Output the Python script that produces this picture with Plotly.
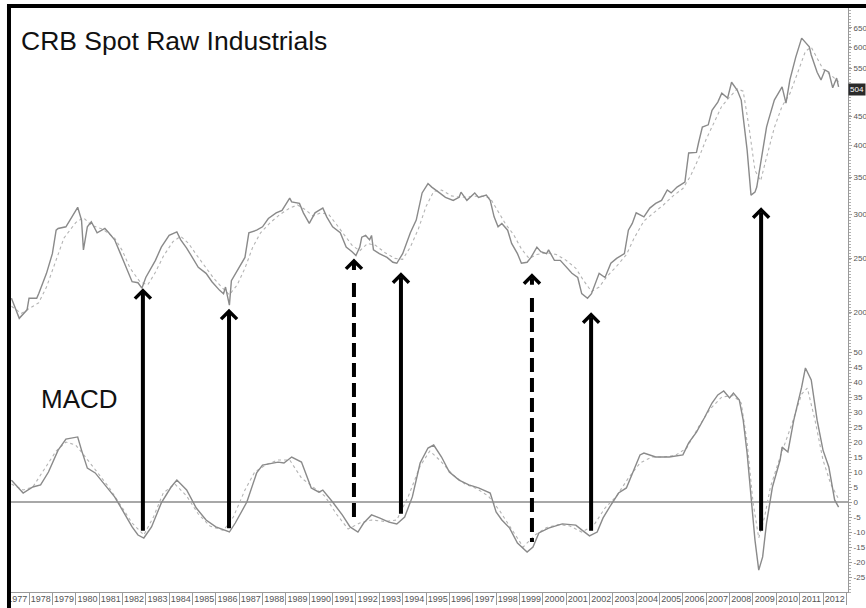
import math
import plotly.graph_objects as go

# ---------------- data ----------------
price_dates = ["1977-04", "1977-08", "1977-12", "1978-01", "1978-05", "1978-06", "1978-10", "1979-01", "1979-03", "1979-04",
               "1979-08", "1979-10", "1979-12", "1980-02", "1980-04", "1980-05", "1980-07", "1980-09", "1980-12", "1981-02",
               "1981-04", "1981-06", "1981-09", "1981-12", "1982-03", "1982-06", "1982-09", "1982-11", "1983-01", "1983-04",
               "1983-06", "1983-09", "1984-01", "1984-05", "1984-07", "1984-10", "1985-01", "1985-04", "1985-08", "1985-11",
               "1986-03", "1986-05", "1986-06", "1986-08", "1986-09", "1986-12", "1987-04", "1987-06", "1987-10", "1988-01",
               "1988-04", "1988-08", "1988-11", "1989-03", "1989-04", "1989-08", "1989-10", "1990-01", "1990-04", "1990-06",
               "1990-08", "1990-10", "1991-01", "1991-05", "1991-08", "1991-11", "1992-01", "1992-03", "1992-04", "1992-06",
               "1992-08", "1992-09", "1992-10", "1993-01", "1993-05", "1993-08", "1993-10", "1994-01", "1994-05", "1994-08",
               "1994-11", "1995-02", "1995-04", "1995-08", "1995-11", "1996-03", "1996-06", "1996-07", "1996-10", "1997-02",
               "1997-04", "1997-08", "1997-10", "1997-12", "1998-02", "1998-04", "1998-07", "1998-09", "1998-12", "1999-02",
               "1999-05", "1999-07", "1999-10", "1999-12", "2000-03", "2000-04", "2000-07", "2000-10", "2001-01", "2001-04",
               "2001-07", "2001-09", "2001-12", "2002-02", "2002-06", "2002-09", "2002-12", "2003-03", "2003-07", "2003-09",
               "2003-11", "2004-01", "2004-05", "2004-08", "2004-11", "2005-02", "2005-05", "2005-07", "2005-10", "2006-02",
               "2006-04", "2006-08", "2006-09", "2006-11", "2007-02", "2007-04", "2007-07", "2007-09", "2007-12", "2008-02",
               "2008-05", "2008-07", "2008-08", "2008-10", "2008-12", "2009-02", "2009-03", "2009-05", "2009-08", "2009-09",
               "2009-12", "2010-04", "2010-06", "2010-08", "2010-11", "2011-02", "2011-06", "2011-07", "2011-10", "2011-12",
               "2012-02", "2012-04", "2012-06", "2012-08", "2012-09"]
price_values = [212, 195, 202, 212, 212, 216, 235, 255, 281, 283,
                285, 293, 302, 309, 293, 259, 285, 291, 278, 281,
                283, 278, 270, 255, 241, 227, 226, 221, 231, 241,
                248, 262, 275, 279, 270, 261, 251, 241, 235, 227,
                219, 216, 222, 206, 228, 238, 251, 278, 281, 285,
                295, 302, 305, 321, 316, 314, 302, 289, 302, 305,
                308, 297, 285, 278, 262, 257, 253, 262, 273, 275,
                270, 275, 259, 255, 251, 246, 245, 255, 278, 293,
                328, 341, 336, 328, 322, 318, 322, 329, 318, 328,
                322, 325, 318, 297, 285, 289, 281, 266, 255, 245,
                246, 251, 262, 257, 255, 259, 248, 248, 241, 235,
                231, 216, 212, 216, 235, 231, 245, 250, 255, 281,
                289, 302, 297, 308, 314, 318, 332, 328, 336, 343,
                387, 388, 403, 431, 435, 462, 478, 496, 486, 519,
                502, 482, 449, 392, 325, 329, 336, 371, 431, 444,
                482, 509, 476, 524, 576, 623, 601, 581, 541, 524,
                546, 541, 507, 528, 509]

price_avg_dates = ["1977-04", "1977-09", "1978-01", "1978-06", "1978-10", "1979-03", "1979-07", "1980-01", "1980-05", "1980-09",
                   "1981-03", "1981-09", "1982-01", "1982-05", "1982-10", "1983-02", "1983-06", "1983-10", "1984-03", "1984-07",
                   "1984-11", "1985-03", "1985-08", "1985-12", "1986-04", "1986-08", "1986-12", "1987-04", "1987-08", "1987-12",
                   "1988-05", "1988-10", "1989-03", "1989-07", "1989-11", "1990-03", "1990-07", "1990-11", "1991-03", "1991-07",
                   "1991-11", "1992-03", "1992-07", "1992-11", "1993-04", "1993-09", "1994-01", "1994-05", "1994-09", "1995-01",
                   "1995-05", "1995-09", "1996-02", "1996-07", "1996-12", "1997-05", "1997-10", "1998-02", "1998-06", "1998-10",
                   "1999-02", "1999-06", "1999-10", "2000-03", "2000-08", "2001-01", "2001-06", "2001-10", "2002-02", "2002-06",
                   "2002-10", "2003-03", "2003-08", "2003-12", "2004-05", "2004-10", "2005-03", "2005-08", "2006-01", "2006-05",
                   "2006-09", "2007-01", "2007-05", "2007-09", "2008-01", "2008-05", "2008-08", "2008-11", "2009-02", "2009-05",
                   "2009-08", "2009-12", "2010-04", "2010-08", "2010-12", "2011-04", "2011-07", "2011-10", "2012-01", "2012-05",
                   "2012-09"]
price_avg_values = [205, 199, 203, 208, 222, 248, 272, 290, 296, 287,
                    282, 272, 258, 240, 227, 224, 236, 252, 268, 274,
                    266, 254, 240, 230, 222, 215, 224, 240, 262, 278,
                    290, 300, 308, 312, 306, 298, 302, 300, 288, 276,
                    264, 258, 266, 264, 256, 250, 249, 262, 282, 310,
                    330, 332, 324, 322, 323, 324, 321, 304, 288, 276,
                    260, 250, 254, 256, 254, 248, 240, 228, 218, 222,
                    232, 242, 254, 272, 292, 302, 312, 324, 334, 352,
                    378, 410, 440, 470, 488, 505, 500, 430, 360, 345,
                    380, 430, 470, 495, 540, 590, 600, 575, 548, 535,
                    520]

macd_dates = ["1977-04", "1977-10", "1978-03", "1978-07", "1978-11", "1979-04", "1979-08", "1980-02", "1980-04", "1980-07",
              "1980-11", "1981-05", "1981-09", "1982-01", "1982-06", "1982-09", "1982-12", "1983-04", "1983-09", "1984-02",
              "1984-05", "1984-10", "1985-03", "1985-08", "1986-01", "1986-08", "1986-11", "1987-05", "1987-10", "1988-01",
              "1988-06", "1988-09", "1988-12", "1989-04", "1989-09", "1990-02", "1990-06", "1990-08", "1991-01", "1991-06",
              "1991-10", "1992-02", "1992-05", "1992-09", "1993-01", "1993-06", "1993-10", "1994-02", "1994-06", "1994-10",
              "1995-02", "1995-05", "1995-09", "1996-01", "1996-06", "1996-11", "1997-04", "1997-10", "1998-01", "1998-04",
              "1998-08", "1998-12", "1999-05", "1999-08", "1999-11", "2000-04", "2000-11", "2001-06", "2001-09", "2002-01",
              "2002-05", "2002-08", "2002-12", "2003-04", "2003-08", "2003-11", "2004-03", "2004-05", "2004-11", "2005-06",
              "2006-01", "2006-04", "2006-08", "2006-12", "2007-04", "2007-07", "2007-10", "2008-01", "2008-03", "2008-06",
              "2008-08", "2008-10", "2008-12", "2009-02", "2009-04", "2009-06", "2009-08", "2009-11", "2010-03", "2010-04",
              "2010-07", "2010-10", "2011-02", "2011-04", "2011-07", "2011-10", "2012-01", "2012-04", "2012-07", "2012-09"]
macd_values = [7.3, 3, 5, 5.7, 10, 17.3, 21, 21.7, 17.3, 11.3,
               9.7, 4.7, 1.7, -2.7, -8.3, -11, -12, -8.3, -0.3, 5,
               7.3, 4, -2, -6, -8.3, -10, -7, 0, 9.7, 12.3,
               13, 13.3, 13, 15, 13.3, 4.7, 3.3, 4, 0, -4.3,
               -8.3, -10, -7, -4.3, -5.3, -6.7, -7.3, -5, 1.7, 13,
               18, 19, 15, 10, 7.3, 5.7, 4.7, 3, -3.3, -6,
               -8.7, -13.7, -16.7, -15, -10.3, -8.7, -7.3, -7.7, -9.3, -11.3,
               -10, -5.3, -1, 3, 4.7, 9.7, 15.7, 16.3, 15, 15,
               15.7, 19.7, 23.3, 28, 33, 35.7, 37, 34.7, 36.3, 34,
               27.3, 16.3, 0.7, -12.7, -22.7, -18.3, -7, 5, 14, 18.3,
               16.7, 27.3, 38.3, 44.7, 40.7, 27.3, 17.3, 11.7, 0.7, -1.7]

signal_dates = ["1977-04", "1977-10", "1978-03", "1978-09", "1979-03", "1979-08", "1980-01", "1980-06", "1980-12", "1981-06",
                "1981-12", "1982-06", "1982-12", "1983-05", "1983-10", "1984-04", "1984-10", "1985-04", "1985-10", "1986-05",
                "1986-10", "1987-04", "1987-09", "1988-03", "1988-09", "1989-03", "1989-09", "1990-03", "1990-09", "1991-03",
                "1991-09", "1992-03", "1992-09", "1993-04", "1993-10", "1994-04", "1994-10", "1995-03", "1995-08", "1996-03",
                "1996-09", "1997-03", "1997-09", "1998-03", "1998-09", "1999-03", "1999-09", "2000-03", "2000-09", "2001-03",
                "2001-09", "2002-03", "2002-09", "2003-03", "2003-09", "2004-03", "2004-09", "2005-03", "2005-09", "2006-03",
                "2006-09", "2007-03", "2007-09", "2008-03", "2008-07", "2008-10", "2009-01", "2009-04", "2009-07", "2009-10",
                "2010-03", "2010-09", "2011-02", "2011-05", "2011-09", "2012-01", "2012-05", "2012-09"]
signal_values = [6, 4, 5, 11, 17, 20, 19, 15, 10, 5,
                 -1, -7, -11, -5, 3, 6, 2, -4, -8, -9.5,
                 -5, 4, 10, 12.5, 14, 14, 8, 5, 2, -4,
                 -9, -7, -6, -6.5, -6, 2, 12, 17, 14, 9,
                 6, 4.5, 2, -3, -9, -15, -11, -8.5, -7.5, -8,
                 -10, -8, -2, 2, 8, 13, 15, 15, 15.5, 18,
                 25, 31, 35, 35.5, 33, 20, 0, -12, -5, 5,
                 15, 26, 36, 38, 27, 14, 6, 1]

price_tick_values = [200, 250, 300, 350, 400, 450, 550, 600, 650]
macd_tick_values = [-25, -20, -15, -10, -5, 0, 5, 10, 15, 20, 25, 30, 35, 40, 45, 50]
last_price_label = "504"
last_price_level = 504

# arrows: date, price at the arrow tip, MACD value at the arrow tail, dashed or solid
arrow_dates = ["1982-11-17", "1986-07-26", "1991-12-01", "1993-12-05", "1999-07-16", "2002-01-26", "2009-05-08"]
arrow_tip_prices = [221, 203, 250, 236, 235, 200, 309]
arrow_tail_macd = [-9.7, -9, -6, -4, -13.3, -9.7, -9.7]
arrow_dashed = [False, False, True, False, True, False, False]
arrow_lengths_px = [243, 220, 262, 242, 269, 219, 324]

# ---------------- figure ----------------
GRAY = "#8a8a8a"
LIGHT = "#b4b4b4"
AXIS = "#9a9a9a"

fig = go.Figure()
fig.add_trace(go.Scatter(x=price_avg_dates, y=price_avg_values, mode="lines", yaxis="y",
                         line=dict(color=LIGHT, width=1.1, dash="dot"), hoverinfo="skip"))
fig.add_trace(go.Scatter(x=price_dates, y=price_values, mode="lines", yaxis="y",
                         line=dict(color=GRAY, width=1.4)))
fig.add_trace(go.Scatter(x=signal_dates, y=signal_values, mode="lines", yaxis="y2",
                         line=dict(color=LIGHT, width=1.1, dash="dot"), hoverinfo="skip"))
fig.add_trace(go.Scatter(x=macd_dates, y=macd_values, mode="lines", yaxis="y2",
                         line=dict(color=GRAY, width=1.4)))

tick_font = dict(family="Liberation Sans Narrow, Arial Narrow, Liberation Sans, sans-serif", size=9, color="#555555")
axis_font = dict(family="Liberation Sans Narrow, Arial Narrow, Liberation Sans, sans-serif", size=8, color="#555555")
big_font = dict(family="Liberation Sans, Arial, sans-serif", size=26.5, color="#111111")

annotations = [
    dict(text="CRB Spot Raw Industrials", xref="paper", yref="paper", x=0.0095, y=0.944,
         xanchor="left", yanchor="middle", showarrow=False, font=big_font),
    dict(text="MACD", xref="paper", yref="paper", x=0.034, y=0.331,
         xanchor="left", yanchor="middle", showarrow=False, font=dict(big_font, size=26)),
    dict(text=last_price_label, xref="paper", yref="y", x=1.0, y=math.log10(last_price_level),
         xanchor="left", yanchor="middle", showarrow=False, bgcolor="#2a2a2a", borderpad=1,
         font=dict(family="Liberation Sans Narrow, sans-serif", size=8, color="#ffffff")),
]
HEAD = dict(arrowhead=4, arrowsize=0.77, arrowwidth=4, arrowcolor="#000000", standoff=0)
shapes = []
for d, p, tail, dashed, L in zip(arrow_dates, arrow_tip_prices, arrow_tail_macd, arrow_dashed, arrow_lengths_px):
    tip = math.log10(p)  # annotations on a log axis take log10 positions
    if dashed:
        # arrow head only (short arrow, tiny text box so the head is not hidden)
        annotations.append(dict(x=d, y=tip, xref="x", yref="y", text="", showarrow=True,
                                ax=0, ay=12, font=dict(size=1), borderpad=0, **HEAD))
        # dashed shaft, drawn downward from just under the head to the MACD value where it starts
        shapes.append(dict(type="line", xref="x", yref="y2", ysizemode="pixel", yanchor=tail,
                           x0=d, x1=d, y0=L - 25, y1=0, layer="above",
                           line=dict(color="#000000", width=4, dash="14px,6px")))
    else:
        annotations.append(dict(x=d, y=tip, xref="x", yref="y", text="", showarrow=True,
                                ax=0, ay=L, font=dict(size=1), borderpad=0, **HEAD))

# frame
shapes.append(dict(type="line", xref="paper", yref="paper", x0=-0.0024, x1=-0.0024, y0=-0.03, y1=1.004,
                   line=dict(color="#000000", width=4)))
shapes.append(dict(type="line", xref="paper", yref="paper", x0=-0.0048, x1=1.03, y0=1.0034, y1=1.0034,
                   line=dict(color="#000000", width=4)))

fig.update_layout(
    template="none",
    width=866, height=608,
    margin=dict(l=11, r=18, t=8, b=16, autoexpand=False),
    paper_bgcolor="#ffffff", plot_bgcolor="#ffffff",
    showlegend=False,
    xaxis=dict(type="date", range=["1977-03-25", "2013-01-26"], tick0="1977-01-01", dtick="M12",
               tickformat="%Y", ticklabelmode="period", ticks="outside", ticklen=12, tickcolor=AXIS,
               ticklabelstandoff=-14, automargin=False,
               showgrid=False, showline=True, linecolor=AXIS, linewidth=1, zeroline=False,
               tickfont=tick_font),
    yaxis=dict(type="log", range=[1.7973, 2.8488], side="right", tickvals=price_tick_values,
               ticktext=[str(v) for v in price_tick_values], ticks="outside", ticklen=3, tickcolor=AXIS,
               automargin=False, ticklabelstandoff=0,
               showgrid=False, showline=True, linecolor=AXIS, linewidth=1, zeroline=False,
               tickfont=axis_font),
    yaxis2=dict(overlaying="y", side="right", range=[-30, 164.7], tickvals=macd_tick_values,
                ticktext=[str(v) for v in macd_tick_values], ticks="outside", ticklen=3, tickcolor=AXIS,
                automargin=False, ticklabelstandoff=0,
                minor=dict(dtick=1, ticks="outside", ticklen=2, tickcolor="#b0b0b0"),
                showgrid=False, showline=False, zeroline=True, zerolinecolor="#a8a8a8", zerolinewidth=1.6,
                tickfont=axis_font),
    annotations=annotations,
    shapes=shapes,
)

fig.write_html("out.html", config={"displayModeBar": False},
               post_script="document.body.style.margin='0px';")
